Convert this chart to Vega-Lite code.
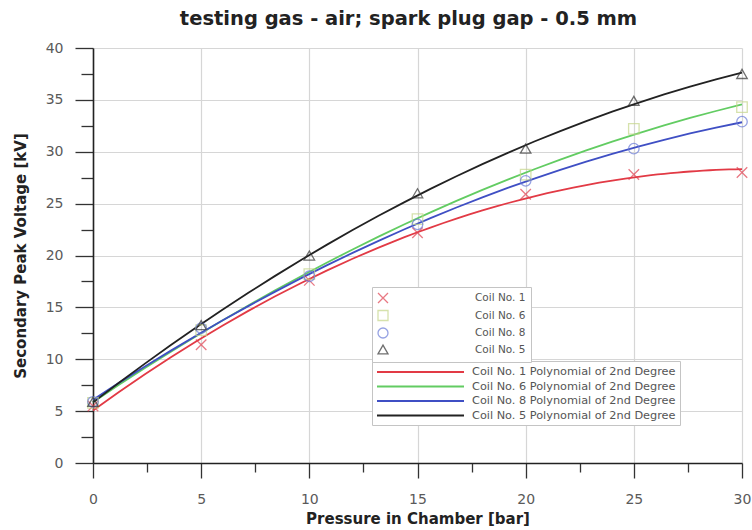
{
  "$schema": "https://vega.github.io/schema/vega-lite/v6.json",
  "autosize": "none",
  "width": 649,
  "height": 415,
  "padding": {"left": 93, "top": 48, "right": 10, "bottom": 67},
  "background": "white",
  "config": {
    "font": "DejaVu Sans",
    "view": {"stroke": null},
    "axis": {"domainColor": "#222", "domainWidth": 1.6, "tickColor": "#333", "tickWidth": 1.3, "labelColor": "#5a5a5a", "labelFontSize": 14, "labelFlush": false, "titleFontSize": 15, "titleFontWeight": "bold", "titleColor": "#222", "gridColor": "#d6d6d6", "gridWidth": 1.2}
  },
  "title": {"text": "testing gas - air; spark plug gap - 0.5 mm", "fontSize": 19.5, "fontWeight": "bold", "color": "#222", "offset": 12, "anchor": "middle", "dx": -9},
  "data": {"values": [
    {"coil": "Coil No. 1", "fit": "Coil No. 1 Polynomial of 2nd Degree", "p": 0, "v": 5.5},
    {"coil": "Coil No. 1", "fit": "Coil No. 1 Polynomial of 2nd Degree", "p": 5, "v": 11.4},
    {"coil": "Coil No. 1", "fit": "Coil No. 1 Polynomial of 2nd Degree", "p": 10, "v": 17.6},
    {"coil": "Coil No. 1", "fit": "Coil No. 1 Polynomial of 2nd Degree", "p": 15, "v": 22.2},
    {"coil": "Coil No. 1", "fit": "Coil No. 1 Polynomial of 2nd Degree", "p": 20, "v": 25.9},
    {"coil": "Coil No. 1", "fit": "Coil No. 1 Polynomial of 2nd Degree", "p": 25, "v": 27.8},
    {"coil": "Coil No. 1", "fit": "Coil No. 1 Polynomial of 2nd Degree", "p": 30, "v": 28.0},
    {"coil": "Coil No. 6", "fit": "Coil No. 6 Polynomial of 2nd Degree", "p": 0, "v": 5.8},
    {"coil": "Coil No. 6", "fit": "Coil No. 6 Polynomial of 2nd Degree", "p": 5, "v": 12.8},
    {"coil": "Coil No. 6", "fit": "Coil No. 6 Polynomial of 2nd Degree", "p": 10, "v": 18.2},
    {"coil": "Coil No. 6", "fit": "Coil No. 6 Polynomial of 2nd Degree", "p": 15, "v": 23.5},
    {"coil": "Coil No. 6", "fit": "Coil No. 6 Polynomial of 2nd Degree", "p": 20, "v": 27.8},
    {"coil": "Coil No. 6", "fit": "Coil No. 6 Polynomial of 2nd Degree", "p": 25, "v": 32.2},
    {"coil": "Coil No. 6", "fit": "Coil No. 6 Polynomial of 2nd Degree", "p": 30, "v": 34.3},
    {"coil": "Coil No. 8", "fit": "Coil No. 8 Polynomial of 2nd Degree", "p": 0, "v": 5.9},
    {"coil": "Coil No. 8", "fit": "Coil No. 8 Polynomial of 2nd Degree", "p": 5, "v": 13.0},
    {"coil": "Coil No. 8", "fit": "Coil No. 8 Polynomial of 2nd Degree", "p": 10, "v": 18.0},
    {"coil": "Coil No. 8", "fit": "Coil No. 8 Polynomial of 2nd Degree", "p": 15, "v": 23.0},
    {"coil": "Coil No. 8", "fit": "Coil No. 8 Polynomial of 2nd Degree", "p": 20, "v": 27.2},
    {"coil": "Coil No. 8", "fit": "Coil No. 8 Polynomial of 2nd Degree", "p": 25, "v": 30.3},
    {"coil": "Coil No. 8", "fit": "Coil No. 8 Polynomial of 2nd Degree", "p": 30, "v": 32.9},
    {"coil": "Coil No. 5", "fit": "Coil No. 5 Polynomial of 2nd Degree", "p": 0, "v": 5.9},
    {"coil": "Coil No. 5", "fit": "Coil No. 5 Polynomial of 2nd Degree", "p": 5, "v": 13.3},
    {"coil": "Coil No. 5", "fit": "Coil No. 5 Polynomial of 2nd Degree", "p": 10, "v": 20.0},
    {"coil": "Coil No. 5", "fit": "Coil No. 5 Polynomial of 2nd Degree", "p": 15, "v": 26.0},
    {"coil": "Coil No. 5", "fit": "Coil No. 5 Polynomial of 2nd Degree", "p": 20, "v": 30.3},
    {"coil": "Coil No. 5", "fit": "Coil No. 5 Polynomial of 2nd Degree", "p": 25, "v": 34.9},
    {"coil": "Coil No. 5", "fit": "Coil No. 5 Polynomial of 2nd Degree", "p": 30, "v": 37.5}
  ]},
  "resolve": {"axis": {"x": "independent", "y": "independent"}},
  "layer": [
    {
      "mark": {"type": "point", "opacity": 0},
      "encoding": {
        "x": {"field": "p", "type": "quantitative", "scale": {"domain": [0, 30], "nice": false}, "axis": {"orient": "bottom", "values": [2.5, 7.5, 12.5, 17.5, 22.5, 27.5], "tickSize": 9, "labels": false, "grid": false, "domain": false, "title": null}},
        "y": {"field": "v", "type": "quantitative", "scale": {"domain": [0, 40], "nice": false}, "axis": {"orient": "left", "values": [2.5, 7.5, 12.5, 17.5, 22.5, 27.5, 32.5, 37.5], "tickSize": 12, "labels": false, "grid": false, "domain": false, "title": null}}
      }
    },
    {
      "transform": [{"regression": "v", "on": "p", "method": "poly", "order": 2, "groupby": ["fit"], "extent": [0, 30]}],
      "mark": {"type": "line", "strokeWidth": 1.8},
      "encoding": {
        "x": {"field": "p", "type": "quantitative", "scale": {"domain": [0, 30], "nice": false}, "axis": {"orient": "bottom", "values": [0, 5, 10, 15, 20, 25, 30], "tickSize": 15, "labelPadding": 14, "grid": true, "title": "Pressure in Chamber [bar]", "titlePadding": 5}},
        "y": {"field": "v", "type": "quantitative", "scale": {"domain": [0, 40], "nice": false}, "axis": {"orient": "left", "values": [0, 5, 10, 15, 20, 25, 30, 35, 40], "tickSize": 18, "labelPadding": 12, "grid": true, "title": "Secondary Peak Voltage [kV]", "titlePadding": 17}},
        "stroke": {"field": "fit", "type": "nominal",
          "scale": {"domain": ["Coil No. 1 Polynomial of 2nd Degree", "Coil No. 6 Polynomial of 2nd Degree", "Coil No. 8 Polynomial of 2nd Degree", "Coil No. 5 Polynomial of 2nd Degree"], "range": ["#e23a45", "#62cc62", "#3f4fc4", "#222222"]},
          "legend": {"title": null, "orient": "none", "legendX": 279, "legendY": 313, "symbolType": "M-1,0L13.5,0", "symbolSize": 144, "symbolStrokeWidth": 2, "labelFontSize": 11.3, "labelLimit": 400, "labelColor": "#555", "rowPadding": 1.5, "padding": 4, "labelOffset": 82, "fillColor": "white", "strokeColor": "#c4c4c4"}
        }
      }
    },
    {
      "mark": {"type": "point", "filled": false, "size": 110, "strokeWidth": 1.3},
      "encoding": {
        "x": {"field": "p", "type": "quantitative", "axis": null},
        "y": {"field": "v", "type": "quantitative", "axis": null},
        "color": {"field": "coil", "type": "nominal",
          "scale": {"domain": ["Coil No. 1", "Coil No. 6", "Coil No. 8", "Coil No. 5"], "range": ["#e04050", "#c5d68a", "#6a7bd8", "#333333"]},
          "legend": {"title": null, "orient": "none", "legendX": 279, "legendY": 239, "labelFontSize": 10.5, "labelColor": "#555", "rowPadding": 1.5, "padding": 5, "labelOffset": 86, "fillColor": "white", "strokeColor": "#c4c4c4", "symbolSize": 100, "symbolStrokeWidth": 1.3}
        },
        "shape": {"field": "coil", "type": "nominal",
          "scale": {"domain": ["Coil No. 1", "Coil No. 6", "Coil No. 8", "Coil No. 5"], "range": ["M-1,-1L1,1M-1,1L1,-1", "square", "circle", "triangle-up"]},
          "legend": {"title": null, "orient": "none", "legendX": 279, "legendY": 239, "labelFontSize": 10.5, "labelColor": "#555", "rowPadding": 1.5, "padding": 5, "labelOffset": 86, "fillColor": "white", "strokeColor": "#c4c4c4", "symbolSize": 100, "symbolStrokeWidth": 1.3}
        }
      }
    }
  ]
}
